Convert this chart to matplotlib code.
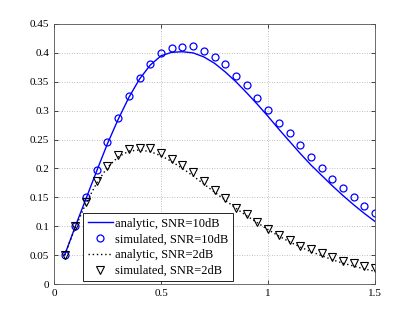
import numpy as np
import matplotlib
matplotlib.use('Agg')
import matplotlib.pyplot as plt

plt.rcParams['font.family'] = ['Liberation Serif', 'DejaVu Serif']

# =============================================================================
# data
# =============================================================================
x = [0.05, 0.1, 0.15, 0.2, 0.25, 0.3, 0.35, 0.4, 0.45, 0.5,
     0.55, 0.6, 0.65, 0.7, 0.75, 0.8, 0.85, 0.9, 0.95, 1.0,
     1.05, 1.1, 1.15, 1.2, 1.25, 1.3, 1.35, 1.4, 1.45, 1.5]

ana_10 = [0.05, 0.1, 0.148, 0.196, 0.243, 0.285, 0.323, 0.355, 0.379, 0.395,
          0.401, 0.402, 0.400, 0.393, 0.382, 0.367, 0.350, 0.331, 0.311, 0.290,
          0.268, 0.247, 0.226, 0.206, 0.188, 0.170, 0.153, 0.137, 0.122, 0.108]
sim_10 = [0.050, 0.100, 0.150, 0.198, 0.245, 0.287, 0.325, 0.356, 0.381, 0.399,
          0.409, 0.411, 0.412, 0.404, 0.393, 0.381, 0.360, 0.345, 0.322, 0.302,
          0.279, 0.262, 0.240, 0.220, 0.201, 0.182, 0.166, 0.150, 0.135, 0.123]
ana_2 = [0.05, 0.098, 0.140, 0.175, 0.202, 0.220, 0.230, 0.232, 0.229, 0.222,
         0.212, 0.200, 0.187, 0.173, 0.159, 0.145, 0.131, 0.118, 0.106, 0.094,
         0.083, 0.073, 0.064, 0.056, 0.049, 0.042, 0.036, 0.031, 0.026, 0.022]
sim_2 = [0.050, 0.100, 0.142, 0.178, 0.205, 0.223, 0.233, 0.235, 0.235, 0.227,
         0.216, 0.206, 0.193, 0.178, 0.162, 0.149, 0.132, 0.121, 0.108, 0.096,
         0.085, 0.076, 0.066, 0.060, 0.053, 0.046, 0.040, 0.036, 0.031, 0.027]

# =============================================================================
# plot
# =============================================================================
fig = plt.figure(figsize=(4.15, 3.2), dpi=100)
ax = fig.add_axes([0.130, 0.1125, 0.774, 0.8125])

ax.plot(x, ana_10, color='b', lw=1.0, label='analytic, SNR=10dB')
ax.plot(x, sim_10, 'o', color='b', mfc='none', ms=5, mew=0.9,
        label='simulated, SNR=10dB', ls='none')
ax.plot(x, ana_2, color='k', lw=1.0, ls=(0, (1, 2)), label='analytic, SNR=2dB')
ax.plot(x, sim_2, 'v', color='k', mfc='none', ms=5.5, mew=0.8,
        label='simulated, SNR=2dB', ls='none')

ax.set_xlim(0, 1.5)
ax.set_ylim(0, 0.45)
ax.set_xticks([0, 0.5, 1, 1.5])
ax.set_xticklabels(['0', '0.5', '1', '1.5'])
ax.set_yticks(np.arange(0, 0.451, 0.05))
ax.set_yticklabels(['0', '0.05', '0.1', '0.15', '0.2', '0.25', '0.3', '0.35', '0.4', '0.45'])
ax.tick_params(direction='in', labelsize=8, length=3, width=0.5,
               top=True, right=True)
ax.grid(True, ls=(0, (1, 2)), color='#aaaaaa', lw=0.6)
for s in ax.spines.values():
    s.set_color('#555555')
    s.set_linewidth(0.6)

leg = ax.legend(loc='lower left', bbox_to_anchor=(0.091, 0.01), borderaxespad=0,
                fontsize=9, fancybox=False, framealpha=1, edgecolor='k',
                handlelength=2.0, handletextpad=0.2, labelspacing=0.3,
                borderpad=0.35)
leg.get_frame().set_linewidth(0.6)

plt.savefig('out.png', dpi=100)
